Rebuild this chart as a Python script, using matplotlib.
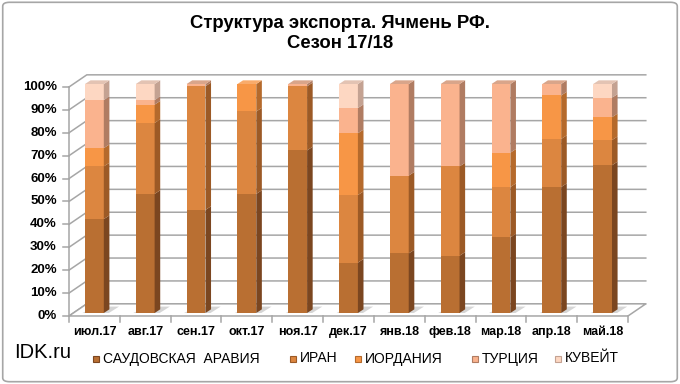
import matplotlib
matplotlib.use("Agg")
import matplotlib.pyplot as plt
import numpy as np
from matplotlib.patches import Polygon, FancyBboxPatch, Rectangle

plt.rcParams["font.family"] = ["Liberation Sans", "DejaVu Sans"]

# data (shares, %)
months = ["июл.17", "авг.17", "сен.17", "окт.17", "ноя.17", "дек.17",
          "янв.18", "фев.18", "мар.18", "апр.18", "май.18"]
saudi = [41, 52, 45, 52, 71, 22, 26, 25, 33, 55, 64.5]
iran = [23, 31, 54, 36, 28, 29.5, 34, 39, 22, 21, 11]
jordan = [8, 8, 0, 12, 0, 27, 0, 0, 15, 19, 10]
turkey = [21, 2, 1, 0, 1, 11, 40, 36, 30, 5, 8.5]
kuwait = [7, 7, 0, 0, 0, 10.5, 0, 0, 0, 0, 6]
series_names = ["САУДОВСКАЯ  АРАВИЯ", "ИРАН", "ИОРДАНИЯ", "ТУРЦИЯ", "КУВЕЙТ"]

FRONT = ["#b96f32", "#dc8640", "#f79646", "#fab38e", "#fdd7c2"]
SIDE = ["#7b4620", "#9c5a26", "#b56a2c", "#b07c62", "#c4a292"]
TOP = ["#c98550", "#e39a5f", "#f9ab6b", "#d9a58a", "#e3c3b3"]
GRID = "#a6a6a6"

W, H = 680, 384
fig = plt.figure(figsize=(W / 100, H / 100), dpi=100)

# outer border
fig.patches.append(FancyBboxPatch((0.004, 0.006), 0.992, 0.988,
                   boxstyle="round,pad=0,rounding_size=0.01",
                   transform=fig.transFigure, fc="none", ec="#a6a6a6", lw=1.2,
                   zorder=-1))

fig.text(0.5, 1 - 33.5 / H, "Структура экспорта. Ячмень РФ.\nСезон 17/18", ha="center",
         va="center", fontsize=13.3, fontweight="bold", linespacing=1.2)

x0, x1 = 69, 628
y0, y1 = 313, 84
ax = fig.add_axes([x0 / W, 1 - y0 / H, (x1 - x0) / W, (y0 - y1) / H])
ax.set_xlim(-0.5, 10.5)
ax.set_ylim(0, 100)
ax.axis("off")

n = len(months)
xs = np.arange(n)
bw = 0.37
dx, dy = 0.11, 1.6          # bar depth
wx, wy = 0.35, 4.0          # back-wall offset
fy = -1.3                   # front floor edge

# back wall gridlines
for g in range(0, 101, 10):
    ax.plot([-0.5, -0.5 + wx, 10.5 + wx], [g + fy, g + wy, g + wy],
            color=GRID, lw=1.1, clip_on=False, zorder=1)
    ax.plot([-0.62, -0.5], [g + fy, g + fy], color=GRID, lw=1.1, clip_on=False, zorder=1)
ax.plot([-0.5, -0.5], [fy, 100 + fy], color=GRID, lw=1.1, clip_on=False, zorder=1)

# floor
ax.add_patch(Polygon([(-0.5, fy), (10.5, fy), (10.5 + wx, wy), (-0.5 + wx, wy)],
             closed=True, fc="white", ec=GRID, lw=1.1, clip_on=False, zorder=1))
for k in range(n + 1):
    ax.plot([k - 0.5, k - 0.5], [fy, fy - 2.6], color=GRID, lw=1.1,
            clip_on=False, zorder=1)
for x in xs:
    ax.add_patch(Polygon([(x - bw / 2 - 0.05, 0.0), (x + bw / 2 + 0.1, 0.0),
                          (x + bw / 2 + 0.3, 2.8), (x - bw / 2 + 0.2, 2.8)],
                 closed=True, fc="#c4c4c4", ec="none", alpha=0.7, clip_on=False, zorder=2))

# stacked 3D-looking bars
stack = [saudi, iran, jordan, turkey, kuwait]
bottom = np.zeros(n)
tops = np.array([sum(c) for c in zip(*stack)])
for i, vals in enumerate(stack):
    vals = np.array(vals, dtype=float)
    ax.bar(xs, vals, bw, bottom=bottom, color=FRONT[i], edgecolor="none",
           zorder=4, label=series_names[i])
    for x, b, v in zip(xs, bottom, vals):
        if v <= 0:
            continue
        r = x + bw / 2
        ax.add_patch(Polygon([(r, b), (r + dx, b + dy), (r + dx, b + v + dy), (r, b + v)],
                     closed=True, fc=SIDE[i], ec="none", zorder=4, clip_on=False))
    bottom = bottom + vals

# top caps, colour of the uppermost non-zero segment
for j, x in enumerate(xs):
    idx = max(i for i in range(len(stack)) if stack[i][j] > 0)
    t = tops[j]
    ax.add_patch(Polygon([(x - bw / 2, t), (x + bw / 2, t), (x + bw / 2 + dx, t + dy),
                          (x - bw / 2 + dx, t + dy)],
                 closed=True, fc=TOP[idx], ec="none", zorder=5, clip_on=False))

# y tick labels
for g in range(0, 101, 10):
    ax.text(-0.74, g + fy, f"{g}%", ha="right", va="center", fontsize=9.5,
            fontweight="bold")
# x labels
for x, m in zip(xs, months):
    ax.text(x, -8.3, m, ha="center", va="center", fontsize=9, fontweight="bold")

# legend
fig.text(14 / W, 1 - 352 / H, "IDK.ru", ha="left", va="center", fontsize=14.5)
leg_x = [93, 290, 355, 472, 555]
for i, name in enumerate(series_names):
    lx = leg_x[i]
    fig.patches.append(Rectangle((lx / W, 1 - 362 / H), 6 / W, 6 / H,
                       transform=fig.transFigure, fc=FRONT[i], ec=SIDE[i], lw=0.8))
    fig.text((lx + 10) / W, 1 - 358.5 / H, name, ha="left", va="center",
             fontsize=10)

fig.savefig("out.png", dpi=100)
